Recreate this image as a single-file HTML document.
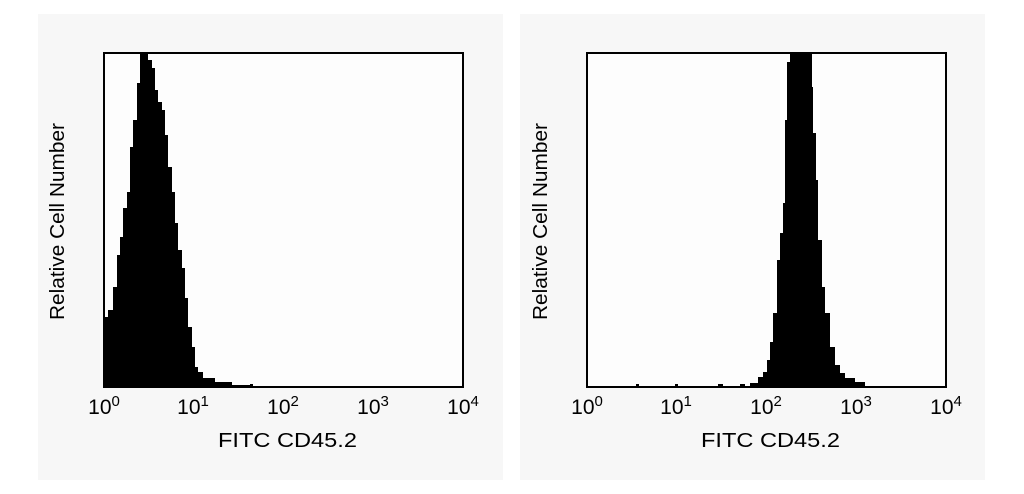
<!DOCTYPE html>
<html><head><meta charset="utf-8"><style>
html,body{margin:0;padding:0;background:#fff;}
svg{display:block;font-family:"Liberation Sans",Arial,sans-serif;}
</style></head><body>
<svg width="1024" height="494" viewBox="0 0 1024 494">
<rect width="1024" height="494" fill="#fff"/>
<rect x="38" y="14" width="465" height="466" fill="#f7f7f7"/>
<rect x="520" y="14" width="465" height="466" fill="#f7f7f7"/>
<!-- left -->
<rect x="104" y="53" width="359" height="334" fill="#fdfdfd"/>
<polygon fill="#000" points="104,387 104,185 105,185 105,317 108,317 108,310 113,310 113,287 117,287 117,255 120,255 120,237 123,237 123,208 127,208 127,192 130,192 130,147 133,147 133,120 137,120 137,83 140,83 140,53 148,53 148,60 152,60 152,68 155,68 155,90 158,90 158,102 162,102 162,110 165,110 165,135 168,135 168,167 172,167 172,192 175,192 175,223 178,223 178,250 182,250 182,268 185,268 185,298 188,298 188,327 192,327 192,347 195,347 195,367 198,367 198,372 203,372 203,378 215,378 215,382 232,382 232,385 250,385 250,384 253,384 253,387"/>
<rect x="104" y="53" width="359" height="334" fill="none" stroke="#000" stroke-width="2"/>
<g font-size="21" fill="#000" text-anchor="middle">
<text x="104" y="414">10<tspan font-size="15" dy="-8">0</tspan></text>
<text x="193" y="414">10<tspan font-size="15" dy="-8">1</tspan></text>
<text x="283" y="414">10<tspan font-size="15" dy="-8">2</tspan></text>
<text x="373" y="414">10<tspan font-size="15" dy="-8">3</tspan></text>
<text x="463" y="414">10<tspan font-size="15" dy="-8">4</tspan></text>
</g>
<text x="218" y="447" font-size="20" textLength="139" lengthAdjust="spacingAndGlyphs">FITC CD45.2</text>
<text transform="translate(64,320) rotate(-90)" font-size="20" textLength="197" lengthAdjust="spacingAndGlyphs">Relative Cell Number</text>
<!-- right -->
<rect x="587" y="53" width="359" height="334" fill="#fdfdfd"/>
<polygon fill="#000" points="750,387 750,383 758,383 758,377 763,377 763,372 767,372 767,360 770,360 770,342 773,342 773,313 777,313 777,260 780,260 780,233 783,233 783,203 785,203 785,120 787,120 787,62 790,62 790,53 812,53 812,87 813,87 813,133 816,133 816,180 818,180 818,240 822,240 822,287 825,287 825,313 830,313 830,347 835,347 835,365 840,365 840,373 845,373 845,378 855,378 855,382 865,382 865,387"/>
<rect x="636" y="384" width="3" height="3" fill="#000"/>
<rect x="675" y="384" width="3" height="3" fill="#000"/>
<rect x="718" y="384" width="5" height="3" fill="#000"/>
<rect x="740" y="384" width="5" height="3" fill="#000"/>
<rect x="587" y="53" width="359" height="334" fill="none" stroke="#000" stroke-width="2"/>
<g font-size="21" fill="#000" text-anchor="middle">
<text x="587" y="414">10<tspan font-size="15" dy="-8">0</tspan></text>
<text x="676" y="414">10<tspan font-size="15" dy="-8">1</tspan></text>
<text x="766" y="414">10<tspan font-size="15" dy="-8">2</tspan></text>
<text x="856" y="414">10<tspan font-size="15" dy="-8">3</tspan></text>
<text x="946" y="414">10<tspan font-size="15" dy="-8">4</tspan></text>
</g>
<text x="701" y="447" font-size="20" textLength="139" lengthAdjust="spacingAndGlyphs">FITC CD45.2</text>
<text transform="translate(547,320) rotate(-90)" font-size="20" textLength="197" lengthAdjust="spacingAndGlyphs">Relative Cell Number</text>
</svg>
</body></html>
